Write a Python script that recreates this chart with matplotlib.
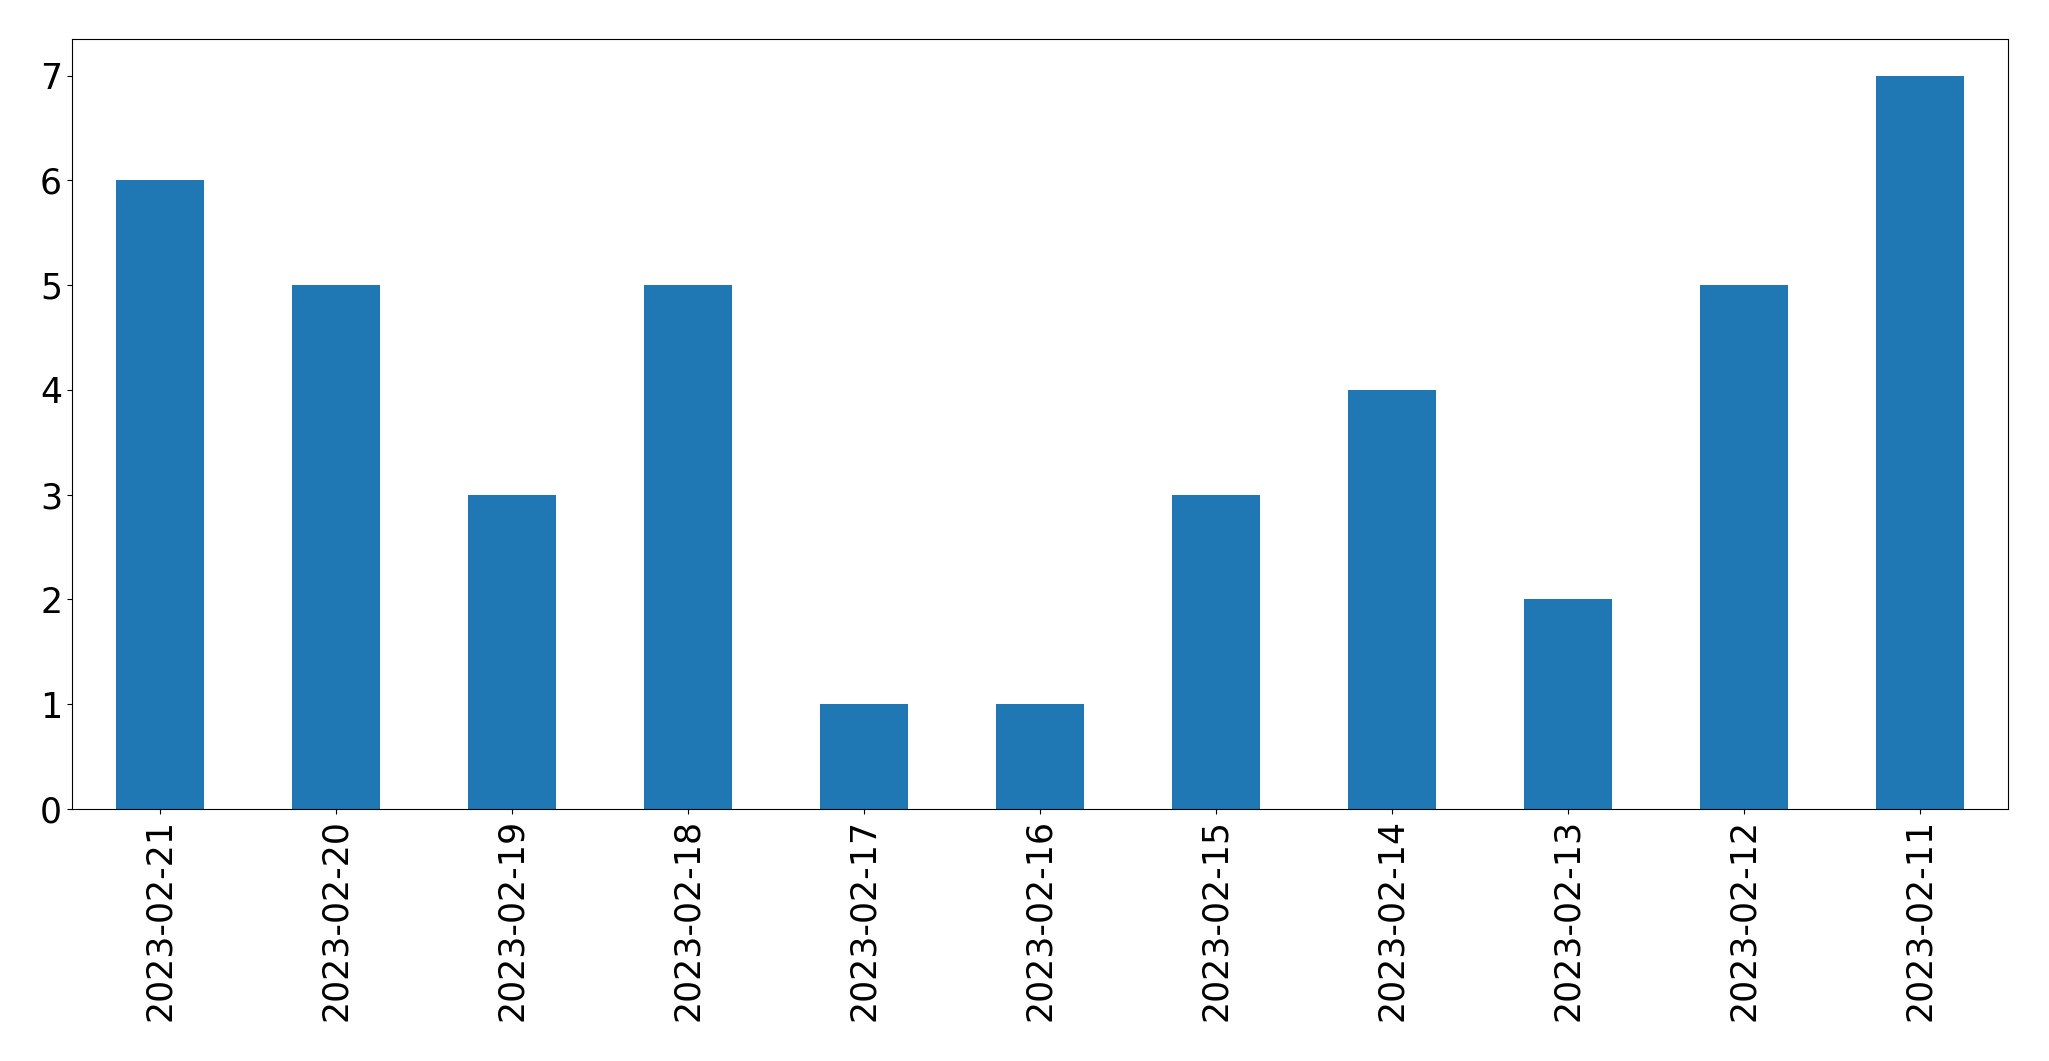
import matplotlib
matplotlib.use("Agg")
import matplotlib.pyplot as plt
import pandas as pd

dates = ["2023-02-21", "2023-02-20", "2023-02-19", "2023-02-18", "2023-02-17", "2023-02-16",
         "2023-02-15", "2023-02-14", "2023-02-13", "2023-02-12", "2023-02-11"]
counts = [6, 5, 3, 5, 1, 1, 3, 4, 2, 5, 7]

s = pd.Series(counts, index=dates)

fig, ax = plt.subplots(figsize=(20.49, 10.61), dpi=100)
s.plot(kind="bar", ax=ax, color="#1f77b4")
ax.tick_params(labelsize=25)
fig.subplots_adjust(left=0.0351, right=0.980, top=0.9632, bottom=0.2375)
fig.savefig("out.png", dpi=100)
